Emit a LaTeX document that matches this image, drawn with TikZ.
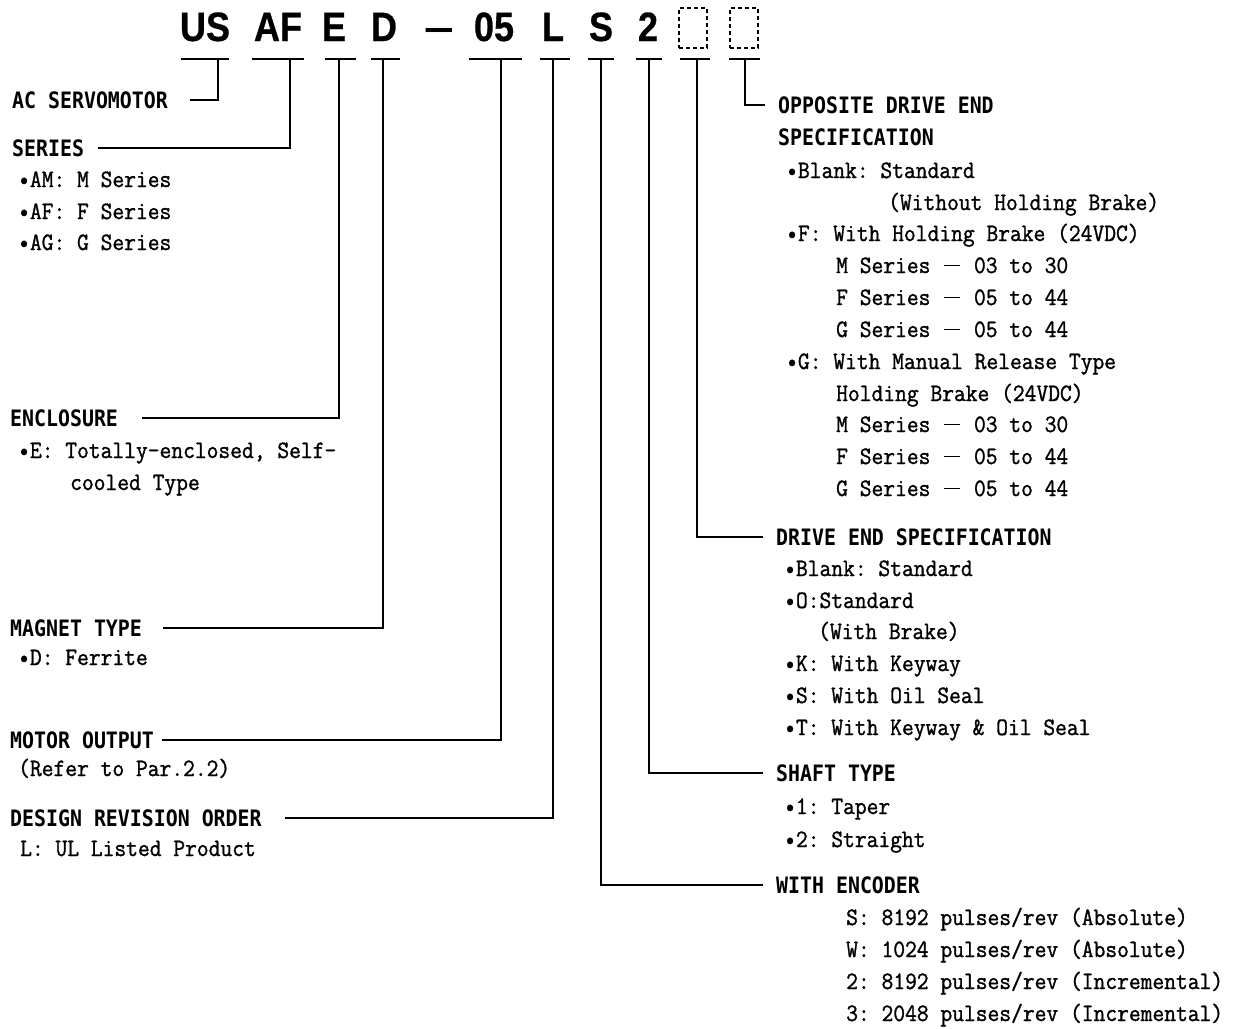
\documentclass[tikz,border=0pt]{standalone}
\usepackage{fontspec}
\newfontfamily\codefont[FakeStretch=0.88,FakeBold=0.6]{Liberation Sans Bold}
\newfontfamily\dashfont[FakeStretch=1.3]{Liberation Sans Bold}
\newfontfamily\headfont[FakeStretch=0.88]{DejaVu Sans Mono Bold}
\newfontfamily\bodyfont[FakeStretch=0.915,FakeBold=1.2]{Latin Modern Mono}
\newcommand\wdash{\makebox[20pt]{\rule[0.28em]{16pt}{1.4pt}}}
\tikzset{
  code/.style={font=\codefont\fontsize{41}{41}\selectfont, inner sep=0pt, anchor=base},
  head/.style={font=\headfont\fontsize{22.6}{24}\selectfont, inner sep=0pt, anchor=base west},
  body/.style={font=\bodyfont\fontsize{25}{30}\selectfont\frenchspacing, inner sep=0pt, anchor=base west},
  bar/.style={line width=2.8pt},
  conn/.style={line width=2.5pt},
  blankbox/.style={draw, dash pattern=on 4pt off 3pt, line width=1.1pt, minimum width=28pt, minimum height=40pt, inner sep=0pt}
}
\begin{document}
\begin{tikzpicture}[x=1pt,y=-1pt]
\useasboundingbox (0,0) rectangle (1241,1028);
\fill[white] (0,0) rectangle (1241,1028);

% code letters
\node[code] (cUS) at (205,41) {US};
\node[code] (cAF) at (278,41) {AF};
\node[code] (cE) at (334,41) {E};
\node[code] (cD) at (384,41) {D};
\node[code, font=\dashfont\fontsize{41}{41}\selectfont] (cDash) at (439,41) {\textendash};
\node[code] (c05) at (494,41) {05};
\node[code] (cL) at (553,41) {L};
\node[code] (cS) at (601,41) {S};
\node[code] (c2) at (648,41) {2};
\node[blankbox] (bx1) at (693,28) {};
\node[blankbox] (bx2) at (744,28) {};

% bars
\draw[bar] (181,59) -- (229,59);
\draw[bar] (252,59) -- (304,59);
\draw[bar] (325,59) -- (356,59);
\draw[bar] (371,59) -- (400,59);
\draw[bar] (469,59) -- (522,59);
\draw[bar] (540,59) -- (570,59);
\draw[bar] (588,59) -- (614,59);
\draw[bar] (636,59) -- (662,59);
\draw[bar] (680,59) -- (710,59);
\draw[bar] (729,59) -- (760,59);

\coordinate (tUS) at (218,59);
\coordinate (tAF) at (290,59);
\coordinate (tE) at (339,59);
\coordinate (tD) at (383,59);
\coordinate (t05) at (501,59);
\coordinate (tL) at (553,59);
\coordinate (tS) at (601,59);
\coordinate (t2) at (649,59);
\coordinate (tB1) at (697,59);
\coordinate (tB2) at (745,59);

\coordinate (hAC) at (190,100);
\coordinate (hSER) at (98,148);
\coordinate (hENC) at (142,418);
\coordinate (hMAG) at (163,628);
\coordinate (hMOT) at (162,740);
\coordinate (hDES) at (285,818);
\coordinate (hOPP) at (765,105);
\coordinate (hDRV) at (763,537);
\coordinate (hSHF) at (763,773);
\coordinate (hWEN) at (763,885);

\draw[conn] (tUS) |- (hAC);
\draw[conn] (tAF) |- (hSER);
\draw[conn] (tE) |- (hENC);
\draw[conn] (tD) |- (hMAG);
\draw[conn] (t05) |- (hMOT);
\draw[conn] (tL) |- (hDES);
\draw[conn] (tS) |- (hWEN);
\draw[conn] (t2) |- (hSHF);
\draw[conn] (tB1) |- (hDRV);
\draw[conn] (tB2) |- (hOPP);

% left texts
\node[head] (nAC) at (12,108) {AC SERVOMOTOR};
\node[head] (nSER) at (12,156) {SERIES};
\node[body] (nAM) at (18,187) {\textbullet AM: M Series};
\node[body] (nAF) at (18,219) {\textbullet AF: F Series};
\node[body] (nAG) at (18,250) {\textbullet AG: G Series};
\node[head] (nENC) at (10,426) {ENCLOSURE};
\node[body] (nE1) at (18,458) {\textbullet E: Totally-enclosed, Self-};
\node[body] (nE2) at (70,490) {cooled Type};
\node[head] (nMAG) at (10,636) {MAGNET TYPE};
\node[body] (nD) at (18,665) {\textbullet D: Ferrite};
\node[head] (nMOT) at (10,748) {MOTOR OUTPUT};
\node[body] (nRef) at (18,776) {(Refer to Par.2.2)};
\node[head] (nDES) at (10,826) {DESIGN REVISION ORDER};
\node[body] (nUL) at (20,856) {L: UL Listed Product};

% right texts
\node[head] (nOPP1) at (778,113) {OPPOSITE DRIVE END};
\node[head] (nOPP2) at (778,145) {SPECIFICATION};
\node[body] (o1) at (786,178) {\textbullet Blank: Standard};
\node[body] (o2) at (888,210) {(Without Holding Brake)};
\node[body] (o3) at (786,241) {\textbullet F: With Holding Brake (24VDC)};
\node[body] (o4) at (836,273) {M Series \wdash{} 03 to 30};
\node[body] (o5) at (836,305) {F Series \wdash{} 05 to 44};
\node[body] (o6) at (836,337) {G Series \wdash{} 05 to 44};
\node[body] (o7) at (786,369) {\textbullet G: With Manual Release Type};
\node[body] (o8) at (836,401) {Holding Brake (24VDC)};
\node[body] (o9) at (836,432) {M Series \wdash{} 03 to 30};
\node[body] (o10) at (836,464) {F Series \wdash{} 05 to 44};
\node[body] (o11) at (836,496) {G Series \wdash{} 05 to 44};

\node[head] (nDRV) at (776,545) {DRIVE END SPECIFICATION};
\node[body] (d1) at (784,576) {\textbullet Blank: Standard};
\node[body] (d2) at (784,608) {\textbullet O:Standard};
\node[body] (d3) at (818,639) {(With Brake)};
\node[body] (d4) at (784,671) {\textbullet K: With Keyway};
\node[body] (d5) at (784,703) {\textbullet S: With Oil Seal};
\node[body] (d6) at (784,735) {\textbullet T: With Keyway \& Oil Seal};

\node[head] (nSHF) at (776,781) {SHAFT TYPE};
\node[body] (s1) at (784,814) {\textbullet 1: Taper};
\node[body] (s2) at (784,847) {\textbullet 2: Straight};

\node[head] (nWEN) at (776,893) {WITH ENCODER};
\node[body] (w1) at (846,925) {S: 8192 pulses/rev (Absolute)};
\node[body] (w2) at (846,957) {W: 1024 pulses/rev (Absolute)};
\node[body] (w3) at (846,989) {2: 8192 pulses/rev (Incremental)};
\node[body] (w4) at (846,1021) {3: 2048 pulses/rev (Incremental)};
\end{tikzpicture}
\end{document}
